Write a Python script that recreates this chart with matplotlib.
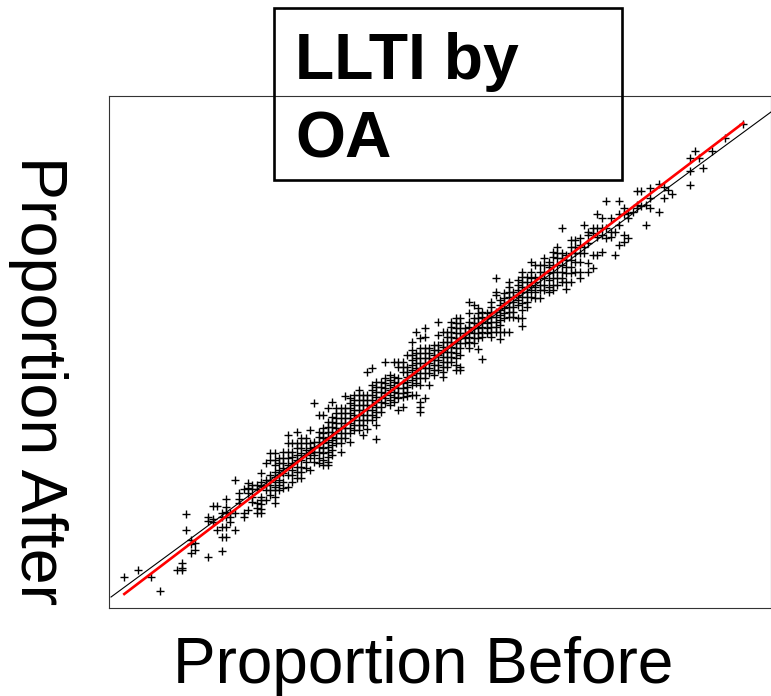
#!/usr/bin/env python
# -*- coding: utf-8 -*-

import matplotlib
matplotlib.use('Agg')
import matplotlib.pyplot as plt
from matplotlib.patches import Rectangle

plt.rcParams['font.family'] = ['Liberation Sans', 'DejaVu Sans']

W, H = 771, 696

# values, one list of "after" readings per "before" step
low_start = 0
low_after = [
    [31], [], [], [38], [], [], [31], [], [17], [], [], [],
    [38], [45, 40, 38], [94, 78], [68, 64, 55], [65, 58], [], [],
    [91, 87, 51], [102, 89, 86], [102, 78], [95, 91, 81, 71, 57],
    [109, 101, 96, 91, 81, 71], [95, 91, 86], [128, 95, 78], [115, 109, 105],
    [119, 95, 91], [125, 120, 115, 98], [123, 119, 111, 106],
    [123, 119, 105, 100, 95], [135, 126, 122, 111, 108, 104, 99, 95],
    [145, 128, 123, 118, 108], [155, 148, 133, 128, 123, 118, 113],
    [155, 148, 143, 136, 131, 126, 121, 118, 111, 105],
    [150, 145, 138, 133, 128, 123, 118],
    [156, 150, 145, 140, 135, 126, 120],
    [173, 165, 156, 150, 143, 133, 121],
    [165, 156, 151, 145, 138, 133, 126],
    [176, 165, 160, 153, 148, 141, 136, 130],
    [170, 165, 160, 155, 148, 141, 136, 130],
    [170, 165, 158, 153, 146, 140],
    [178, 165, 160, 155, 150, 138],
    [205, 166, 161, 156, 153, 146],
    [193, 176, 171, 166, 161, 156, 150, 145],
    [193, 180, 175, 170, 165, 160, 155, 148, 143],
    [200, 186, 181, 176, 171, 166, 161, 156, 151, 146, 143],
]

mid_start = 47
mid_after = [
    [206, 191, 186, 181, 176, 171, 168, 163, 158, 153],
    [200, 195, 190, 185, 180, 175, 170, 165],
    [200, 195, 190, 185, 180, 175, 170, 165, 156],
    [212, 200, 195, 190, 185, 180, 175, 170],
    [210, 205, 200, 195, 190, 185, 180, 175, 166],
    [213, 208, 203, 198, 193, 188, 183, 178],
    [218, 213, 208, 203, 198, 193, 188, 183, 178],
    [213, 208, 203, 198, 193, 188, 183, 173],
    [236, 213, 208, 203, 198, 193, 188, 179],
    [240, 223, 218, 213, 208, 203, 198, 193, 188],
    [226, 221, 216, 211, 206, 201, 196, 191, 183, 169],
    [226, 221, 216, 211, 206, 201, 196],
    [246, 230, 225, 220, 215, 210, 205],
    [233, 228, 223, 218, 213, 208, 203],
    [246, 231, 226, 221, 216, 211, 206],
    [246, 241, 230, 225, 220, 215, 210, 198],
    [246, 241, 236, 225, 220, 215, 211, 201],
    [253, 241, 236, 231, 226, 221, 216, 212],
    [266, 258, 253, 248, 243, 238, 233, 228, 223, 213],
    [276, 255, 250, 245, 240, 235, 230, 225, 213],
    [270, 260, 255, 250, 245, 240, 235, 230, 223, 206, 201, 196],
    [280, 271, 260, 255, 250, 245, 240, 235, 230, 210],
    [260, 255, 250, 245, 240, 235, 223],
    [263, 258, 253, 248, 243, 238, 233],
    [286, 273, 263, 258, 253, 248, 243, 238],
    [276, 266, 261, 256, 251, 246, 241, 236, 231],
    [276, 271, 266, 261, 256, 251, 246, 241],
    [286, 281, 276, 271, 266, 261, 256, 251, 246],
    [290, 285, 280, 275, 270, 265, 260, 255, 250, 243, 238],
    [290, 285, 280, 275, 270, 265, 260, 253, 241, 238],
    [280, 275, 270, 265],
    [306, 295, 286, 281, 276, 271, 266, 260],
    [303, 290, 285, 280, 275, 270, 265],
    [300, 295, 290, 285, 280, 275, 270, 259],
    [296, 291, 286, 281, 276, 271, 249],
    [295, 290, 285, 280, 275],
    [306, 301, 296, 291, 286, 281, 276, 271],
    [330, 316, 313, 296, 291, 286, 281, 276],
    [308, 303, 298, 293, 288, 283, 276, 269],
    [315, 310, 305, 300, 295, 290, 276],
    [326, 321, 316, 311, 306, 301, 296, 291, 276],
    [316, 311, 306, 301, 296, 291],
    [328, 323, 318, 313, 308, 303, 290],
    [336, 331, 326, 321, 316, 311, 305, 298, 290, 282],
    [331, 326, 321, 316, 311, 306, 301],
]

high_start = 92
high_after = [
    [346, 336, 330, 323, 318, 311], [343, 331, 326, 321, 316, 310],
    [343, 336, 330, 323, 318, 310], [350, 343, 336, 330, 323, 318],
    [346, 341, 335, 328, 321, 316], [356, 351, 343, 336, 330, 323, 318],
    [361, 355, 350, 343, 336, 330, 323], [380, 355, 350, 343, 336, 330, 326],
    [353, 348, 341, 335, 326, 319], [368, 361, 355, 348, 341, 335, 326],
    [368, 361, 355, 346, 336], [370, 363, 355, 346, 336, 330],
    [383, 361, 355], [376, 373, 365, 345, 336], [380, 375, 353, 340],
    [394, 380, 371, 353], [390, 380, 373, 356], [407, 380, 370],
    [390, 376, 371], [376, 353], [407, 394, 383, 363], [400, 394, 373, 366],
    [395, 390, 370], [396], [417, 403, 400], [417, 402], [403, 383],
    [420, 410, 400], [], [424, 396], [421, 410], [418], [414], [], [], [],
    [450, 437, 423], [457], [450], [440], [], [457], [], [], [470], [], [], [],
    [484],
]

red_before = [0, 140]
red_after = [14, 485]
black_before = [-3, 146.3]
black_after = [11, 496]

fig = plt.figure(figsize=(W / 100., H / 100.), dpi=100)
ax = fig.add_axes([109. / W, 1 - 608. / H, (W - 109.) / W, 512. / H])

for start, rows in [(low_start, low_after), (mid_start, mid_after), (high_start, high_after)]:
    xs, ys = [], []
    for i, row in enumerate(rows):
        for v in row:
            xs.append(start + i)
            ys.append(v)
    ax.plot(xs, ys, ls='none', marker='+', ms=5.5, mew=1.0, color='black', zorder=2)

ax.plot(black_before, black_after, color='black', lw=0.8, zorder=3)
ax.plot(red_before, red_after, color='#ff0000', lw=1.9, zorder=4)

ax.set_xlim(-3.46, 146.3)
ax.set_ylim(0, 512)
ax.set_xticks([])
ax.set_yticks([])
for s in ax.spines.values():
    s.set_linewidth(0.8)
    s.set_color('#333333')

fig.add_artist(Rectangle((274. / W, 1 - 180. / H), 348. / W, 172. / H, transform=fig.transFigure,
                         fc='none', ec='black', lw=1.9, zorder=10))
fig.text(295. / W, 1 - 79.5 / H, 'LLTI by', fontsize=46.3, fontweight='bold', zorder=11)
fig.text(295. / W, 1 - 157. / H, 'OA', fontsize=46.3, fontweight='bold', zorder=11)

fig.text(423. / W, 1 - 683. / H, 'Proportion Before', fontsize=46, ha='center', va='baseline')
fig.text(8. / W, 1 - 380.5 / H, 'Proportion After', fontsize=46.5, rotation=270, ha='left', va='center')

fig.savefig('out.png', dpi=100)
